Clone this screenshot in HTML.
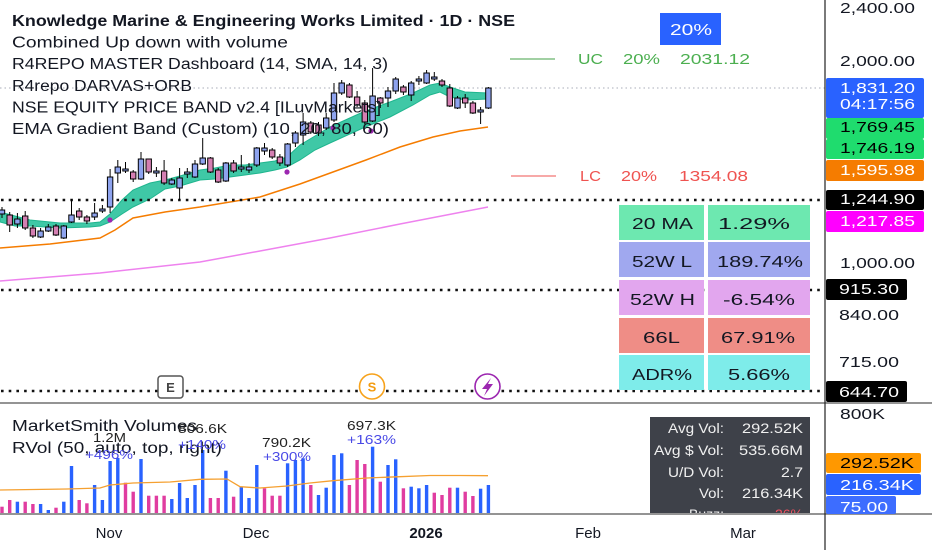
<!DOCTYPE html>
<html><head><meta charset="utf-8"><style>
html,body{margin:0;padding:0;background:#fff;}
svg{display:block;font-family:"Liberation Sans",sans-serif;}
</style></head><body>
<svg width="932" height="550" viewBox="0 0 932 550" xmlns="http://www.w3.org/2000/svg">
<rect x="0" y="0" width="932" height="550" fill="#fff"/>
<defs>
<clipPath id="main"><rect x="0" y="0" width="825" height="403"/></clipPath>
<clipPath id="vol"><rect x="0" y="404" width="825" height="109"/></clipPath>
</defs>

<line x1="0" y1="88" x2="825" y2="88" stroke="#a8adb8" stroke-width="1" stroke-dasharray="1.5 3"/>

<polyline fill="none" stroke="#ee82ee" stroke-width="1.5" points="0,281 100,273 200,262 260,251 330,238 400,224 488,207"/>
<polyline fill="none" stroke="#f57c00" stroke-width="1.5" points="0,248 50,244 100,238 115,230 133,218 165,212 200,207 230,202 260,197 300,184 333,172 366,160 400,147 433,137 460,131 488,127"/>

<polygon fill="#3fc8a6" stroke="#1fb58e" stroke-width="1" points="0,212 15,216 30,220 60,223 90,223 100,222 110,214 122,200 133,190 150,183 165,180 180,176 200,170 215,168 230,165 245,165 260,163 275,161 287,157 300,145 315,136 330,127 363,112 390,102 413,93 430,85 440,83 450,87 465,92 488,93 488,99 465,100 450,97 440,92 430,95 413,105 390,117 363,128 330,143 315,150 300,160 287,167 275,170 260,173 245,175 230,177 215,179 200,180 180,186 165,189 150,199 133,207 122,214 110,222 100,226 90,227 60,228 30,226 15,226 0,222"/>

<g stroke="#111" stroke-width="2.6" stroke-dasharray="2.6 5.1">
<line x1="1" y1="200" x2="825" y2="200"/>
<line x1="1" y1="290" x2="825" y2="290"/>
<line x1="1" y1="391" x2="825" y2="391"/>
</g>

<line x1="510" y1="59" x2="555" y2="59" stroke="#43a047" stroke-width="1"/>
<g fill="#4caf50" font-size="14.5">
<text x="578" y="64" textLength="25" lengthAdjust="spacingAndGlyphs">UC</text>
<text x="623" y="64" textLength="37" lengthAdjust="spacingAndGlyphs">20%</text>
<text x="680" y="64" textLength="70" lengthAdjust="spacingAndGlyphs">2031.12</text>
</g>
<line x1="511" y1="176" x2="556" y2="176" stroke="#ef5350" stroke-width="1"/>
<g fill="#ef5350" font-size="14.5">
<text x="580" y="181" textLength="21" lengthAdjust="spacingAndGlyphs">LC</text>
<text x="621" y="181" textLength="36" lengthAdjust="spacingAndGlyphs">20%</text>
<text x="679" y="181" textLength="69" lengthAdjust="spacingAndGlyphs">1354.08</text>
</g>
<rect x="660" y="13" width="61" height="32" fill="#2962ff"/>
<text x="670" y="35" fill="#fff" font-size="16" textLength="42" lengthAdjust="spacingAndGlyphs">20%</text>

<g stroke="#000" stroke-width="1" clip-path="url(#main)">
<line x1="2" y1="207" x2="2" y2="218"/><rect x="-0.7" y="210" width="5.4" height="4" fill="#8ea3ee"/>
<line x1="9.7" y1="212" x2="9.7" y2="232"/><rect x="7" y="215" width="5.4" height="10" fill="#d47fb2"/>
<line x1="17.4" y1="213" x2="17.4" y2="228"/><rect x="14.7" y="219" width="5.4" height="5" fill="#8ea3ee"/>
<line x1="25.2" y1="211" x2="25.2" y2="230"/><rect x="22.5" y="216" width="5.4" height="12" fill="#d47fb2"/>
<line x1="32.9" y1="225" x2="32.9" y2="238"/><rect x="30.2" y="228" width="5.4" height="8" fill="#d47fb2"/>
<line x1="40.6" y1="228" x2="40.6" y2="238"/><rect x="37.9" y="231" width="5.4" height="6" fill="#8ea3ee"/>
<line x1="48.3" y1="224" x2="48.3" y2="232"/><rect x="45.6" y="227" width="5.4" height="4" fill="#8ea3ee"/>
<line x1="56" y1="224" x2="56" y2="236"/><rect x="53.3" y="226" width="5.4" height="9" fill="#d47fb2"/>
<line x1="63.8" y1="225" x2="63.8" y2="239"/><rect x="61.1" y="226" width="5.4" height="12" fill="#8ea3ee"/>
<line x1="71.5" y1="199" x2="71.5" y2="223"/><rect x="68.8" y="215" width="5.4" height="7" fill="#8ea3ee"/>
<line x1="79.2" y1="208" x2="79.2" y2="220"/><rect x="76.5" y="211" width="5.4" height="6" fill="#d47fb2"/>
<line x1="86.9" y1="215" x2="86.9" y2="224"/><rect x="84.2" y="217" width="5.4" height="4" fill="#d47fb2"/>
<line x1="94.6" y1="203" x2="94.6" y2="220"/><rect x="91.9" y="213" width="5.4" height="4" fill="#8ea3ee"/>
<line x1="102.4" y1="205" x2="102.4" y2="213"/><rect x="99.7" y="209" width="5.4" height="2" fill="#8ea3ee"/>
<line x1="110.1" y1="169" x2="110.1" y2="213"/><rect x="107.4" y="177" width="5.4" height="30" fill="#8ea3ee"/>
<line x1="117.8" y1="160" x2="117.8" y2="183"/><rect x="115.1" y="167" width="5.4" height="6" fill="#8ea3ee"/>
<line x1="125.5" y1="162" x2="125.5" y2="173"/><rect x="122.8" y="169" width="5.4" height="2" fill="#8ea3ee"/>
<line x1="133.2" y1="170" x2="133.2" y2="182"/><rect x="130.5" y="172" width="5.4" height="7" fill="#d47fb2"/>
<line x1="141" y1="152" x2="141" y2="180"/><rect x="138.3" y="159" width="5.4" height="20" fill="#8ea3ee"/>
<line x1="148.7" y1="159" x2="148.7" y2="174"/><rect x="146" y="159" width="5.4" height="13" fill="#d47fb2"/>
<line x1="156.4" y1="167" x2="156.4" y2="177"/><rect x="153.7" y="171" width="5.4" height="2" fill="#8ea3ee"/>
<line x1="164.1" y1="160" x2="164.1" y2="185"/><rect x="161.4" y="171" width="5.4" height="12" fill="#d47fb2"/>
<line x1="171.8" y1="178" x2="171.8" y2="185"/><rect x="169.1" y="180" width="5.4" height="4" fill="#8ea3ee"/>
<line x1="179.6" y1="168" x2="179.6" y2="200"/><rect x="176.9" y="178" width="5.4" height="10" fill="#8ea3ee"/>
<line x1="187.3" y1="168" x2="187.3" y2="178"/><rect x="184.6" y="172" width="5.4" height="2" fill="#8ea3ee"/>
<line x1="195" y1="160" x2="195" y2="178"/><rect x="192.3" y="164" width="5.4" height="13" fill="#8ea3ee"/>
<line x1="202.7" y1="138" x2="202.7" y2="165"/><rect x="200" y="158" width="5.4" height="6" fill="#8ea3ee"/>
<line x1="210.4" y1="157" x2="210.4" y2="173"/><rect x="207.7" y="158" width="5.4" height="14" fill="#d47fb2"/>
<line x1="218.2" y1="168" x2="218.2" y2="183"/><rect x="215.5" y="170" width="5.4" height="12" fill="#d47fb2"/>
<line x1="225.9" y1="162" x2="225.9" y2="182"/><rect x="223.2" y="163" width="5.4" height="18" fill="#8ea3ee"/>
<line x1="233.6" y1="160" x2="233.6" y2="173"/><rect x="230.9" y="163" width="5.4" height="8" fill="#d47fb2"/>
<line x1="241.3" y1="155" x2="241.3" y2="172"/><rect x="238.6" y="167" width="5.4" height="2" fill="#8ea3ee"/>
<line x1="249" y1="163" x2="249" y2="173"/><rect x="246.3" y="167" width="5.4" height="3" fill="#8ea3ee"/>
<line x1="256.8" y1="147" x2="256.8" y2="167"/><rect x="254.1" y="148" width="5.4" height="17" fill="#8ea3ee"/>
<line x1="264.5" y1="143" x2="264.5" y2="155"/><rect x="261.8" y="148" width="5.4" height="3" fill="#8ea3ee"/>
<line x1="272.2" y1="148" x2="272.2" y2="159"/><rect x="269.5" y="150" width="5.4" height="7" fill="#d47fb2"/>
<line x1="279.9" y1="154" x2="279.9" y2="166"/><rect x="277.2" y="157" width="5.4" height="6" fill="#d47fb2"/>
<line x1="287.6" y1="143" x2="287.6" y2="167"/><rect x="284.9" y="144" width="5.4" height="21" fill="#8ea3ee"/>
<line x1="295.4" y1="131" x2="295.4" y2="147"/><rect x="292.7" y="133" width="5.4" height="10" fill="#8ea3ee"/>
<line x1="303.1" y1="113" x2="303.1" y2="145"/><rect x="300.4" y="122" width="5.4" height="13" fill="#8ea3ee"/>
<line x1="310.8" y1="121" x2="310.8" y2="134"/><rect x="308.1" y="123" width="5.4" height="9" fill="#d47fb2"/>
<line x1="318.5" y1="122" x2="318.5" y2="136"/><rect x="315.8" y="125" width="5.4" height="8" fill="#d47fb2"/>
<line x1="326.2" y1="113" x2="326.2" y2="130"/><rect x="323.5" y="118" width="5.4" height="10" fill="#8ea3ee"/>
<line x1="334" y1="83" x2="334" y2="122"/><rect x="331.3" y="93" width="5.4" height="27" fill="#8ea3ee"/>
<line x1="341.7" y1="80" x2="341.7" y2="95"/><rect x="339" y="83" width="5.4" height="10" fill="#8ea3ee"/>
<line x1="349.4" y1="83" x2="349.4" y2="98"/><rect x="346.7" y="85" width="5.4" height="12" fill="#d47fb2"/>
<line x1="357.1" y1="91" x2="357.1" y2="107"/><rect x="354.4" y="97" width="5.4" height="8" fill="#d47fb2"/>
<line x1="364.8" y1="100" x2="364.8" y2="124"/><rect x="362.1" y="103" width="5.4" height="19" fill="#d47fb2"/>
<line x1="372.6" y1="68" x2="372.6" y2="122"/><rect x="369.9" y="96" width="5.4" height="25" fill="#8ea3ee"/>
<line x1="380.3" y1="97" x2="380.3" y2="108"/><rect x="377.6" y="98" width="5.4" height="5" fill="#d47fb2"/>
<line x1="388" y1="87" x2="388" y2="107"/><rect x="385.3" y="91" width="5.4" height="7" fill="#8ea3ee"/>
<line x1="395.7" y1="77" x2="395.7" y2="94"/><rect x="393" y="79" width="5.4" height="12" fill="#8ea3ee"/>
<line x1="403.4" y1="85" x2="403.4" y2="95"/><rect x="400.7" y="87" width="5.4" height="5" fill="#d47fb2"/>
<line x1="411.2" y1="81" x2="411.2" y2="101"/><rect x="408.5" y="83" width="5.4" height="12" fill="#8ea3ee"/>
<line x1="418.9" y1="76" x2="418.9" y2="85"/><rect x="416.2" y="79" width="5.4" height="2" fill="#8ea3ee"/>
<line x1="426.6" y1="70" x2="426.6" y2="84"/><rect x="423.9" y="73" width="5.4" height="10" fill="#8ea3ee"/>
<line x1="434.3" y1="72" x2="434.3" y2="81"/><rect x="431.6" y="77" width="5.4" height="2" fill="#8ea3ee"/>
<line x1="442" y1="79" x2="442" y2="87"/><rect x="439.3" y="81" width="5.4" height="4" fill="#d47fb2"/>
<line x1="449.8" y1="84" x2="449.8" y2="107"/><rect x="447.1" y="88" width="5.4" height="18" fill="#d47fb2"/>
<line x1="457.5" y1="96" x2="457.5" y2="109"/><rect x="454.8" y="98" width="5.4" height="10" fill="#8ea3ee"/>
<line x1="465.2" y1="94" x2="465.2" y2="108"/><rect x="462.5" y="98" width="5.4" height="5" fill="#d47fb2"/>
<line x1="472.9" y1="101" x2="472.9" y2="114"/><rect x="470.2" y="103" width="5.4" height="10" fill="#d47fb2"/>
<line x1="480.6" y1="107" x2="480.6" y2="124"/><rect x="477.9" y="110" width="5.4" height="2" fill="#8ea3ee"/>
<line x1="488.4" y1="87" x2="488.4" y2="109"/><rect x="485.7" y="88" width="5.4" height="20" fill="#8ea3ee"/>
</g>

<g fill="#9c27b0">
<circle cx="110" cy="220" r="2.6"/>
<circle cx="287" cy="172" r="2.6"/>
<circle cx="333" cy="128" r="2.6"/>
<circle cx="371" cy="131" r="2.6"/>
</g>

<g fill="#131722" font-size="15.5">
<text x="12" y="26" font-weight="bold" textLength="503" lengthAdjust="spacingAndGlyphs">Knowledge Marine &amp; Engineering Works Limited · 1D · NSE</text>
<text x="12" y="47.5" textLength="276" lengthAdjust="spacingAndGlyphs">Combined Up down with volume</text>
<text x="12" y="69" textLength="376" lengthAdjust="spacingAndGlyphs">R4REPO MASTER Dashboard (14, SMA, 14, 3)</text>
<text x="12" y="91" textLength="180" lengthAdjust="spacingAndGlyphs">R4repo DARVAS+ORB</text>
<text x="12" y="112.5" textLength="369" lengthAdjust="spacingAndGlyphs">NSE EQUITY PRICE BAND v2.4 [ILuvMarkets]</text>
<text x="12" y="134" textLength="377" lengthAdjust="spacingAndGlyphs">EMA Gradient Band (Custom) (10, 20, 80, 60)</text>
</g>

<g>
<rect x="619" y="205" width="85" height="35" fill="#6de8b0"/><rect x="708" y="205" width="102" height="35" fill="#6de8b0"/>
<rect x="619" y="242" width="85" height="35" fill="#a0a8ef"/><rect x="708" y="242" width="102" height="35" fill="#a0a8ef"/>
<rect x="619" y="280" width="85" height="35" fill="#e2a6ee"/><rect x="708" y="280" width="102" height="35" fill="#e2a6ee"/>
<rect x="619" y="318" width="85" height="35" fill="#ef8d86"/><rect x="708" y="318" width="102" height="35" fill="#ef8d86"/>
<rect x="619" y="355" width="85" height="35" fill="#7eecea"/><rect x="708" y="355" width="102" height="35" fill="#7eecea"/>
</g>
<g fill="#131722" font-size="16">
<text x="632" y="229" textLength="61" lengthAdjust="spacingAndGlyphs">20 MA</text>
<text x="718" y="229" textLength="72" lengthAdjust="spacingAndGlyphs">1.29%</text>
<text x="632" y="267" textLength="60" lengthAdjust="spacingAndGlyphs">52W L</text>
<text x="717" y="267" textLength="86" lengthAdjust="spacingAndGlyphs">189.74%</text>
<text x="630" y="305" textLength="65" lengthAdjust="spacingAndGlyphs">52W H</text>
<text x="723" y="305" textLength="72" lengthAdjust="spacingAndGlyphs">-6.54%</text>
<text x="643" y="343" textLength="37" lengthAdjust="spacingAndGlyphs">66L</text>
<text x="721" y="343" textLength="74" lengthAdjust="spacingAndGlyphs">67.91%</text>
<text x="632" y="380" textLength="60" lengthAdjust="spacingAndGlyphs">ADR%</text>
<text x="728" y="380" textLength="62" lengthAdjust="spacingAndGlyphs">5.66%</text>
</g>

<rect x="158" y="376" width="25" height="22" rx="3" fill="#fff" stroke="#555" stroke-width="1.5"/>
<text x="170.5" y="392" text-anchor="middle" font-size="13" font-weight="bold" fill="#444">E</text>
<circle cx="372" cy="386.5" r="12.5" fill="#fff" stroke="#f7a21b" stroke-width="1.6"/>
<text x="372" y="391.5" text-anchor="middle" font-size="13" font-weight="bold" fill="#f39c12">S</text>
<circle cx="487.5" cy="386.5" r="12.5" fill="#fff" stroke="#9c27b0" stroke-width="1.6"/>
<path d="M491,378 L482,389 L487,389 L484,396 L493,384 L488,384 Z" fill="#9c27b0"/>

<g clip-path="url(#vol)">
<g>
<rect x="0.3" y="506.7" width="3.4" height="6.3" fill="#e03ca0"/>
<rect x="8" y="500" width="3.4" height="13" fill="#e03ca0"/>
<rect x="15.7" y="501.7" width="3.4" height="11.3" fill="#2962ff"/>
<rect x="23.5" y="501.7" width="3.4" height="11.3" fill="#e03ca0"/>
<rect x="31.2" y="504" width="3.4" height="9" fill="#e03ca0"/>
<rect x="38.9" y="504" width="3.4" height="9" fill="#2962ff"/>
<rect x="46.6" y="510" width="3.4" height="3" fill="#2962ff"/>
<rect x="54.3" y="507.7" width="3.4" height="5.3" fill="#e03ca0"/>
<rect x="62.1" y="501.7" width="3.4" height="11.3" fill="#2962ff"/>
<rect x="69.8" y="466" width="3.4" height="47" fill="#2962ff"/>
<rect x="77.5" y="500" width="3.4" height="13" fill="#e03ca0"/>
<rect x="85.2" y="503.3" width="3.4" height="9.7" fill="#e03ca0"/>
<rect x="92.9" y="485" width="3.4" height="28" fill="#2962ff"/>
<rect x="100.7" y="500" width="3.4" height="13" fill="#2962ff"/>
<rect x="108.4" y="461" width="3.4" height="52" fill="#2962ff"/>
<rect x="116.1" y="458" width="3.4" height="55" fill="#2962ff"/>
<rect x="123.8" y="482.7" width="3.4" height="30.3" fill="#e03ca0"/>
<rect x="131.5" y="491.7" width="3.4" height="21.3" fill="#e03ca0"/>
<rect x="139.3" y="459" width="3.4" height="54" fill="#2962ff"/>
<rect x="147" y="495.7" width="3.4" height="17.3" fill="#e03ca0"/>
<rect x="154.7" y="495.7" width="3.4" height="17.3" fill="#e03ca0"/>
<rect x="162.4" y="495.7" width="3.4" height="17.3" fill="#e03ca0"/>
<rect x="170.1" y="499" width="3.4" height="14" fill="#2962ff"/>
<rect x="177.9" y="483" width="3.4" height="30" fill="#2962ff"/>
<rect x="185.6" y="498" width="3.4" height="15" fill="#2962ff"/>
<rect x="193.3" y="485" width="3.4" height="28" fill="#2962ff"/>
<rect x="201" y="450" width="3.4" height="63" fill="#2962ff"/>
<rect x="208.7" y="498" width="3.4" height="15" fill="#e03ca0"/>
<rect x="216.5" y="498" width="3.4" height="15" fill="#e03ca0"/>
<rect x="224.2" y="470.7" width="3.4" height="42.3" fill="#2962ff"/>
<rect x="231.9" y="496.7" width="3.4" height="16.3" fill="#e03ca0"/>
<rect x="239.6" y="486.7" width="3.4" height="26.3" fill="#2962ff"/>
<rect x="247.3" y="498" width="3.4" height="15" fill="#2962ff"/>
<rect x="255.1" y="465" width="3.4" height="48" fill="#2962ff"/>
<rect x="262.8" y="488.3" width="3.4" height="24.7" fill="#e03ca0"/>
<rect x="270.5" y="495.7" width="3.4" height="17.3" fill="#e03ca0"/>
<rect x="278.2" y="495.7" width="3.4" height="17.3" fill="#e03ca0"/>
<rect x="285.9" y="463.3" width="3.4" height="49.7" fill="#2962ff"/>
<rect x="293.7" y="460" width="3.4" height="53" fill="#2962ff"/>
<rect x="301.4" y="458.3" width="3.4" height="54.7" fill="#2962ff"/>
<rect x="309.1" y="485" width="3.4" height="28" fill="#e03ca0"/>
<rect x="316.8" y="495" width="3.4" height="18" fill="#2962ff"/>
<rect x="324.5" y="487.7" width="3.4" height="25.3" fill="#2962ff"/>
<rect x="332.3" y="455" width="3.4" height="58" fill="#2962ff"/>
<rect x="340" y="453.3" width="3.4" height="59.7" fill="#2962ff"/>
<rect x="347.7" y="485" width="3.4" height="28" fill="#e03ca0"/>
<rect x="355.4" y="460" width="3.4" height="53" fill="#e03ca0"/>
<rect x="363.1" y="464" width="3.4" height="49" fill="#e03ca0"/>
<rect x="370.9" y="446.7" width="3.4" height="66.3" fill="#2962ff"/>
<rect x="378.6" y="481.7" width="3.4" height="31.3" fill="#e03ca0"/>
<rect x="386.3" y="465" width="3.4" height="48" fill="#2962ff"/>
<rect x="394" y="459.3" width="3.4" height="53.7" fill="#2962ff"/>
<rect x="401.7" y="488.3" width="3.4" height="24.7" fill="#e03ca0"/>
<rect x="409.5" y="486.7" width="3.4" height="26.3" fill="#2962ff"/>
<rect x="417.2" y="488.3" width="3.4" height="24.7" fill="#2962ff"/>
<rect x="424.9" y="485" width="3.4" height="28" fill="#2962ff"/>
<rect x="432.6" y="492.7" width="3.4" height="20.3" fill="#e03ca0"/>
<rect x="440.3" y="495" width="3.4" height="18" fill="#e03ca0"/>
<rect x="448.1" y="487.7" width="3.4" height="25.3" fill="#e03ca0"/>
<rect x="455.8" y="487.7" width="3.4" height="25.3" fill="#2962ff"/>
<rect x="463.5" y="491.7" width="3.4" height="21.3" fill="#e03ca0"/>
<rect x="471.2" y="496" width="3.4" height="17" fill="#e03ca0"/>
<rect x="478.9" y="488.7" width="3.4" height="24.3" fill="#2962ff"/>
<rect x="486.7" y="485" width="3.4" height="28" fill="#2962ff"/>
</g>
<polyline fill="none" stroke="#f5a030" stroke-width="1.3" points="0,490 67,489 100,488 110,485 133,483 170,482 200,479.3 227,479 240,486.7 260,488 287,486 310,483 333,480.7 367,478 400,476.7 430,475.5 460,475.5 488,475.7"/>

<rect x="650" y="417" width="160" height="100" fill="#3e4149"/>
<g fill="#f0f0f0" font-size="14">
<text x="668" y="433" textLength="56" lengthAdjust="spacingAndGlyphs">Avg Vol:</text>
<text x="742" y="433" textLength="61" lengthAdjust="spacingAndGlyphs">292.52K</text>
<text x="654" y="455" textLength="70" lengthAdjust="spacingAndGlyphs">Avg $ Vol:</text>
<text x="739" y="455" textLength="64" lengthAdjust="spacingAndGlyphs">535.66M</text>
<text x="668" y="477" textLength="56" lengthAdjust="spacingAndGlyphs">U/D Vol:</text>
<text x="781" y="477" textLength="22" lengthAdjust="spacingAndGlyphs">2.7</text>
<text x="699" y="498" textLength="25" lengthAdjust="spacingAndGlyphs">Vol:</text>
<text x="742" y="498" textLength="61" lengthAdjust="spacingAndGlyphs">216.34K</text>
<text x="724" y="519" text-anchor="end">Buzz:</text>
<text x="803" y="519" text-anchor="end" fill="#f05060">-26%</text>
</g>
</g>

<g fill="#131722" font-size="15.5">
<text x="12" y="431" textLength="185" lengthAdjust="spacingAndGlyphs">MarketSmith Volumes</text>
<text x="12" y="453" textLength="210" lengthAdjust="spacingAndGlyphs">RVol (50, auto, top, right)</text>
</g>
<g font-size="13">
<text x="93" y="442" fill="#222" textLength="33" lengthAdjust="spacingAndGlyphs">1.2M</text>
<text x="85" y="459" fill="#4a4ae6" textLength="48" lengthAdjust="spacingAndGlyphs">+496%</text>
<text x="178" y="433" fill="#222" textLength="49" lengthAdjust="spacingAndGlyphs">806.6K</text>
<text x="178" y="449" fill="#4a4ae6" textLength="48" lengthAdjust="spacingAndGlyphs">+140%</text>
<text x="262" y="447" fill="#222" textLength="49" lengthAdjust="spacingAndGlyphs">790.2K</text>
<text x="263" y="461" fill="#4a4ae6" textLength="48" lengthAdjust="spacingAndGlyphs">+300%</text>
<text x="347" y="430" fill="#222" textLength="49" lengthAdjust="spacingAndGlyphs">697.3K</text>
<text x="347" y="444" fill="#4a4ae6" textLength="49" lengthAdjust="spacingAndGlyphs">+163%</text>
</g>

<line x1="0" y1="403" x2="932" y2="403" stroke="#555" stroke-width="1.3"/>
<line x1="0" y1="514" x2="932" y2="514" stroke="#555" stroke-width="1.3"/>
<line x1="825" y1="0" x2="825" y2="550" stroke="#222" stroke-width="1.2"/>

<g fill="#131722" font-size="14.5">
<text x="840" y="13" textLength="75" lengthAdjust="spacingAndGlyphs">2,400.00</text>
<text x="840" y="66" textLength="75" lengthAdjust="spacingAndGlyphs">2,000.00</text>
<text x="840" y="268" textLength="75" lengthAdjust="spacingAndGlyphs">1,000.00</text>
<text x="839" y="320" textLength="60" lengthAdjust="spacingAndGlyphs">840.00</text>
<text x="839" y="367" textLength="60" lengthAdjust="spacingAndGlyphs">715.00</text>
<text x="840" y="419" textLength="45" lengthAdjust="spacingAndGlyphs">800K</text>
</g>

<rect x="826" y="78" width="98" height="40" rx="2" fill="#2962ff"/>
<rect x="826" y="118" width="98" height="21" rx="2" fill="#1fdc6e"/>
<rect x="826" y="139" width="98" height="20" rx="2" fill="#1fdc6e"/>
<rect x="826" y="160" width="98" height="21" rx="2" fill="#f57c00"/>
<rect x="826" y="190" width="98" height="20" rx="2" fill="#000"/>
<rect x="826" y="211" width="98" height="21" rx="2" fill="#ff00ff"/>
<rect x="826" y="279" width="81" height="21" rx="2" fill="#000"/>
<rect x="826" y="381" width="81" height="21" rx="2" fill="#000"/>
<rect x="826" y="453" width="95" height="20" rx="2" fill="#ff9800"/>
<rect x="826" y="474" width="95" height="21" rx="2" fill="#2962ff"/>
<rect x="826" y="496" width="70" height="18" rx="2" fill="#3d6dff"/>
<g font-size="14.5">
<text x="840" y="93" fill="#fff" textLength="75" lengthAdjust="spacingAndGlyphs">1,831.20</text>
<text x="840" y="109" fill="#fff" textLength="75" lengthAdjust="spacingAndGlyphs">04:17:56</text>
<text x="840" y="132" fill="#000" textLength="75" lengthAdjust="spacingAndGlyphs">1,769.45</text>
<text x="840" y="153" fill="#000" textLength="75" lengthAdjust="spacingAndGlyphs">1,746.19</text>
<text x="840" y="175" fill="#fff" textLength="75" lengthAdjust="spacingAndGlyphs">1,595.98</text>
<text x="840" y="204" fill="#fff" textLength="75" lengthAdjust="spacingAndGlyphs">1,244.90</text>
<text x="840" y="226" fill="#fff" textLength="75" lengthAdjust="spacingAndGlyphs">1,217.85</text>
<text x="839" y="294" fill="#fff" textLength="60" lengthAdjust="spacingAndGlyphs">915.30</text>
<text x="839" y="397" fill="#fff" textLength="60" lengthAdjust="spacingAndGlyphs">644.70</text>
<text x="840" y="468" fill="#000" textLength="74" lengthAdjust="spacingAndGlyphs">292.52K</text>
<text x="840" y="490" fill="#fff" textLength="74" lengthAdjust="spacingAndGlyphs">216.34K</text>
<text x="840" y="512" fill="#fff" textLength="48" lengthAdjust="spacingAndGlyphs">75.00</text>
</g>

<g fill="#131722" font-size="15" text-anchor="middle">
<text x="109" y="538">Nov</text>
<text x="256" y="538">Dec</text>
<text x="426" y="538" font-weight="bold">2026</text>
<text x="588" y="538">Feb</text>
<text x="743" y="538">Mar</text>
</g>
</svg>
</body></html>
